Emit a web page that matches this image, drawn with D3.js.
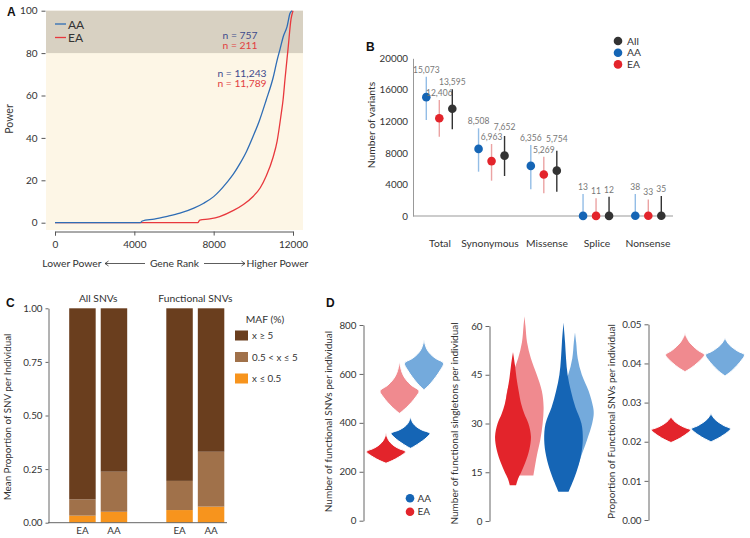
<!DOCTYPE html>
<html><head><meta charset="utf-8">
<script src="https://cdn.jsdelivr.net/npm/d3@7"></script>
<style>
body{margin:0;background:#fff}
svg{display:block}
text{font-family:Lato,'Open Sans',sans-serif;fill:#333}
</style>
</head><body>
<svg id="c" width="750" height="538"></svg>
<script>
// ---------- Panel A data ----------
const aRankAA  = [0,4300,4400,5000,5600,6300,7000,7500,8000,8300,8650,9000,9300,9650,10000,10300,10650,11000,11200,11350,11500,11700,11850,11950];
const aPowerAA = [0,0,0.8,1.7,2.9,4.5,6.9,9.2,12.3,15,18.8,23,27.5,33.5,41,48,57.9,68.5,76.7,82,87.5,92.5,98.8,100];
const aRankEA  = [0,7200,7300,7800,8300,9000,9500,10000,10350,10650,11000,11200,11400,11500,11600,11750,11900,12000];
const aPowerEA = [0,0,1.2,1.8,2.9,5.8,8.6,12.5,16.5,22,31,38.5,51,58,68,82,96,100];
const aXTicks = [0,4000,8000,12000];
const aYTicks = [0,20,40,60,80,100];
const aSeries = ["AA","EA"];
const aNotesTop = ["n = 757","n = 211"];
const aNotesMid = ["n = 11,243","n = 11,789"];

// ---------- Panel B data ----------
const bCategories = ["Total","Synonymous","Missense","Splice","Nonsense"];
const bSeries = ["AA","EA","All"];
const bAA = [15073,8508,6356,13,38];
const bEA = [12406,6963,5269,11,33];
const bAll = [13595,7652,5754,12,35];
const bAAHigh = [17660,11120,9000,2790,2790];
const bAALow  = [12170,5620,3390,0,0];
const bEAHigh = [14710,9130,7520,2240,2100];
const bEALow  = [10060,4480,2880,0,0];
const bAllHigh = [16070,10150,8280,2450,2540];
const bAllLow  = [11000,5070,3080,0,0];
const bYTicks = [0,4000,8000,12000,16000,20000];

// ---------- Panel C data ----------
const cGroups = ["All SNVs","Functional SNVs"];
const cPops = ["EA","AA"];
const cLow  = [0.033,0.051,0.059,0.075];   // x <= 0.5
const cMid  = [0.076,0.187,0.136,0.256];   // 0.5 < x <= 5
const cHigh = [0.891,0.762,0.805,0.669];   // x >= 5
const cYTicks = [0,0.25,0.5,0.75,1];
const cLegend = ["x \u2265 5","0.5 < x  \u2264 5","x \u2264 0.5"];

// ---------- Panel D data (value, relative density) ----------
const dPops = ["EA","AA"];
const d1Ticks = [0,200,400,600,800];
const d1EADarkV = [235,239.7,246.8,258.5,270.3,282,297,312,327,342,349.5,357];
const d1EADarkD = [0,.15,.35,.62,.85,1,.6,.32,.15,.06,.03,0];
const d1AADarkV = [296,302.1,311.8,326.5,341.8,357,370.2,383.4,396.6,409.8,416.4,423];
const d1AADarkD = [0,.15,.35,.62,.85,1,.6,.32,.15,.06,.03,0];
const d1EALightV = [439,448.1,462.3,484.5,507.3,530,554,578,602,626,638,650];
const d1EALightD = [0,.15,.35,.62,.85,1,.6,.32,.15,.06,.03,0];
const d1AALightV = [535,545.9,562.3,589.5,616.8,644,663,682,701,720,729.5,739];
const d1AALightD = [0,.15,.35,.62,.85,1,.6,.32,.15,.06,.03,0];

const d2Ticks = [0,15,30,45,60];
const d2EADarkV = [11,13,15,18,22,26,30,33,36,40,44,48,52];
const d2EADarkD = [.16,.26,.42,.63,.84,.92,.79,.58,.42,.29,.18,.1,0];
const d2EALightV = [14,20,25,30,35,40,45,50,55,60,63];
const d2EALightD = [.46,.63,.81,.93,.98,.89,.63,.33,.13,.05,0];
const d2AADarkV = [9,12,15,20,25,30,35,40,45,50,55,61];
const d2AADarkD = [.26,.47,.66,.89,.99,.92,.61,.38,.21,.13,.08,0];
const d2AALightV = [17,20,25,30,33,35,40,45,50,55,58];
const d2AALightD = [.16,.32,.62,.88,.96,.93,.7,.35,.14,.06,0];

const d3Ticks = [0,0.01,0.02,0.03,0.04,0.05];
const d3EADarkV = [.0198,.02012,.0206,.0214,.0222,.0230,.02368,.02436,.02504,.02572,.02606,.0264];
const d3EADarkD = [0,.15,.35,.62,.85,1,.68,.42,.22,.09,.04,0];
const d3AADarkV = [.0200,.02033,.02083,.02165,.02248,.0233,.02408,.02486,.02564,.02642,.02681,.0272];
const d3AADarkD = [0,.15,.35,.62,.85,1,.68,.42,.22,.09,.04,0];
const d3EALightV = [.0379,.03833,.03898,.04005,.04113,.0422,.0433,.0444,.0455,.0466,.04715,.0477];
const d3EALightD = [0,.15,.35,.62,.85,1,.68,.42,.22,.09,.04,0];
const d3AALightV = [.0368,.03734,.03815,.0395,.04085,.0422,.04306,.04392,.04478,.04564,.04607,.0465];
const d3AALightD = [0,.15,.35,.62,.85,1,.68,.42,.22,.09,.04,0];

// ---------- colours ----------
const BLUE = "#1565b5", RED = "#e3242b", LBLUE = "#74aadc", LRED = "#f08a8f";

const svg = d3.select("#c");
svg.append("rect").attr("width",750).attr("height",538).attr("fill","#fff");

function panelLabel(t,x,y){
  svg.append("text").attr("x",x).attr("y",y).text(t)
    .style("font-family","'Liberation Sans',Arial,sans-serif").style("font-weight","bold")
    .style("font-size","12px").style("fill","#111");
}
function styleAxis(g,color,fs){
  g.selectAll("path,line").attr("stroke",color);
  g.selectAll("text").style("font-family","Lato,'Open Sans',sans-serif").style("font-size",fs).attr("fill","#333");
}

// =============== Panel A ===============
(function(){
  const x = d3.scaleLinear().domain([0,12000]).range([55,293]);
  const y = d3.scaleLinear().domain([0,100]).range([222.7,10.7]);
  const g = svg.append("g");
  g.append("rect").attr("x",46).attr("y",y(100)).attr("width",257).attr("height",230-y(100)).attr("fill","#fdf6e6");
  g.append("rect").attr("x",46).attr("y",y(100)).attr("width",257).attr("height",y(80)-y(100)).attr("fill","#d8d1c2");

  const ya = g.append("g").attr("transform","translate(45.5,0)")
    .call(d3.axisLeft(y).tickValues(aYTicks).tickSize(4).tickPadding(4));
  ya.select(".domain").remove();
  styleAxis(ya,"#555","10px");

  const xa = g.append("g").attr("transform","translate(0,231.5)")
    .call(d3.axisBottom(x).tickValues(aXTicks).tickSize(4).tickPadding(5).tickFormat(d3.format("d")));
  styleAxis(xa,"#555","10px");

  const line = d3.line().x(d=>x(d[0])).y(d=>y(Math.min(100,d[1]))).curve(d3.curveMonotoneX);
  const dataAA = aRankAA.map((r,i)=>[r,aPowerAA[i]]);
  const dataEA = aRankEA.map((r,i)=>[r,aPowerEA[i]]);
  g.append("path").attr("d",line(dataEA)).attr("fill","none").attr("stroke","#e8383d").attr("stroke-width",1.3);
  g.append("path").attr("d",line(dataAA)).attr("fill","none").attr("stroke","#2f6db5").attr("stroke-width",1.3);

  // legend
  const lc = ["#2f6db5","#e8383d"];
  aSeries.forEach((s,i)=>{
    const yy = 24 + i*13.5;
    g.append("line").attr("x1",55).attr("x2",66).attr("y1",yy).attr("y2",yy).attr("stroke",lc[i]).attr("stroke-width",1.3);
    g.append("text").attr("x",68).attr("y",yy+4.5).text(s).style("font-size","12px").style("fill","#333");
  });
  // annotations
  const nc = ["#3d4a8c","#e2403f"];
  aNotesTop.forEach((t,i)=>{
    g.append("text").attr("x",240).attr("y",38.5+i*10.5).attr("text-anchor","middle").text(t).style("font-size","10.3px").style("fill",nc[i]);
  });
  aNotesMid.forEach((t,i)=>{
    g.append("text").attr("x",242).attr("y",76.5+i*10.5).attr("text-anchor","middle").text(t).style("font-size","10.3px").style("fill",nc[i]);
  });
  // axis titles
  g.append("text").attr("transform","translate(13,119) rotate(-90)").attr("text-anchor","middle").text("Power").style("font-size","10.5px");
  const ty = 267;
  g.append("text").attr("x",101.5).attr("y",ty).attr("text-anchor","end").text("Lower Power").style("font-size","10.3px");
  g.append("text").attr("x",174.5).attr("y",ty).attr("text-anchor","middle").text("Gene Rank").style("font-size","10.3px");
  g.append("text").attr("x",246.5).attr("y",ty).attr("text-anchor","start").text("Higher Power").style("font-size","10.3px");
  const ay = 263.5;
  g.append("path").attr("d",`M145,${ay}H105M108.5,${ay-2.5}L105,${ay}L108.5,${ay+2.5}`).attr("fill","none").attr("stroke","#333").attr("stroke-width",0.8);
  g.append("path").attr("d",`M204,${ay}H245M241.5,${ay-2.5}L245,${ay}L241.5,${ay+2.5}`).attr("fill","none").attr("stroke","#333").attr("stroke-width",0.8);
  panelLabel("A",7,16);
})();

// =============== Panel B ===============
(function(){
  const x = d3.scalePoint().domain(bCategories).range([439.3,648.3]);
  const off = d3.scalePoint().domain(bSeries).range([-13,13]);
  const y = d3.scaleLinear().domain([0,20000]).range([216,58.3]);
  const g = svg.append("g");
  const ya = g.append("g").attr("transform","translate(413,0)")
    .call(d3.axisLeft(y).tickValues(bYTicks).tickSize(0).tickPadding(5).tickFormat(d3.format("d")));
  styleAxis(ya,"#999","9.8px");
  g.append("line").attr("x1",413).attr("x2",673).attr("y1",216).attr("y2",216).attr("stroke","#999");
  const labelX = {"Total":440,"Synonymous":490,"Missense":547,"Splice":597,"Nonsense":648};
  bCategories.forEach(c=>{
    g.append("text").attr("x",labelX[c]).attr("y",246.5).attr("text-anchor","middle").text(c).style("font-size","10.3px");
  });
  const series = [
    {k:"AA",v:bAA,lo:bAALow,hi:bAAHigh,dot:BLUE,bar:"#93bde6"},
    {k:"EA",v:bEA,lo:bEALow,hi:bEAHigh,dot:RED,bar:"#eba3a3"},
    {k:"All",v:bAll,lo:bAllLow,hi:bAllHigh,dot:"#333333",bar:"#333333"}
  ];
  const fmt = d3.format(",");
  const placed = bCategories.map(()=>[]);
  series.forEach(s=>{
    bCategories.forEach((c,i)=>{
      const cx = x(c)+off(s.k);
      g.append("line").attr("x1",cx).attr("x2",cx).attr("y1",y(s.lo[i])).attr("y2",y(s.hi[i])).attr("stroke",s.bar).attr("stroke-width",1.4);
      g.append("circle").attr("cx",cx).attr("cy",y(s.v[i])).attr("r",4.3).attr("fill",s.dot);
      const t = g.append("text").attr("x",cx).attr("y",y(s.hi[i])-4).attr("text-anchor","middle").text(fmt(s.v[i]))
        .style("font-size","8.5px").style("fill","#777");
      let bb = t.node().getBBox();
      let guard = 0;
      while(placed[i].some(p=>!(bb.x+bb.width<p.x||p.x+p.width<bb.x||bb.y+bb.height<p.y||p.y+p.height<bb.y)) && guard<20){
        t.attr("y",+t.attr("y")-1); bb = t.node().getBBox(); guard++;
      }
      placed[i].push(bb);
    });
  });
  // legend
  const lcol = {"All":"#333333","AA":BLUE,"EA":RED};
  ["All","AA","EA"].forEach((k,i)=>{
    const yy = 41 + i*11.7;
    g.append("circle").attr("cx",618).attr("cy",yy).attr("r",4.3).attr("fill",lcol[k]);
    g.append("text").attr("x",627).attr("y",yy+3.5).text(k).style("font-size","10.3px");
  });
  g.append("text").attr("transform","translate(375,125) rotate(-90)").attr("text-anchor","middle").text("Number of variants").style("font-size","10.3px");
  panelLabel("B",366,51);
})();

// =============== Panel C ===============
(function(){
  const gx = d3.scalePoint().domain(cGroups).range([98.2,195.3]);
  const px = d3.scaleBand().domain(cPops).range([-29,29]).paddingInner(0.16);
  const y = d3.scaleLinear().domain([0,1]).range([522.7,308.3]);
  const g = svg.append("g");
  const rows = [];
  cGroups.forEach((grp,gi)=>cPops.forEach((p,pi)=>{
    const i = gi*2+pi;
    rows.push({grp,p,low:cLow[i],mid:cMid[i],high:cHigh[i]});
  }));
  const keys = ["low","mid","high"];
  const colors = {low:"#f7941d",mid:"#a0714a",high:"#6a3e1e"};
  const stack = d3.stack().keys(keys)(rows);
  stack.forEach(layer=>{
    layer.forEach(d=>{
      const r = d.data;
      g.append("rect").attr("x",gx(r.grp)+px(r.p)).attr("width",px.bandwidth())
        .attr("y",y(d[1])).attr("height",y(d[0])-y(d[1])).attr("fill",colors[layer.key]);
    });
  });
  const ya = g.append("g").attr("transform","translate(48.5,0)")
    .call(d3.axisLeft(y).tickValues(cYTicks).tickSize(3).tickPadding(3).tickFormat(d3.format(".2f")).tickSizeOuter(0));
  styleAxis(ya,"#666","9.8px");
  g.append("line").attr("x1",48).attr("x2",227).attr("y1",522.7).attr("y2",522.7).attr("stroke","#666");
  rows.forEach(r=>{
    g.append("text").attr("x",gx(r.grp)+px(r.p)+px.bandwidth()/2).attr("y",533.5).attr("text-anchor","middle").text(r.p).style("font-size","9.8px");
  });
  cGroups.forEach(grp=>{
    g.append("text").attr("x",gx(grp)).attr("y",301.5).attr("text-anchor","middle").text(grp).style("font-size","10.3px");
  });
  g.append("text").attr("transform","translate(11,417) rotate(-90)").attr("text-anchor","middle").text("Mean Proportion of SNV per Individual").style("font-size","9.8px");
  // legend
  g.append("text").attr("x",265).attr("y",322.5).attr("text-anchor","middle").text("MAF (%)").style("font-size","10.3px");
  ["high","mid","low"].forEach((k,i)=>{
    const yy = 330.5 + i*21.5;
    g.append("rect").attr("x",235).attr("y",yy).attr("width",13).attr("height",10).attr("fill",colors[k]);
    g.append("text").attr("x",252).attr("y",yy+8.5).text(cLegend[i]).style("font-size","9.8px");
  });
  panelLabel("C",6,306.5);
})();

// =============== Panel D ===============
function violinPanel(opts){
  const g = svg.append("g");
  const y = d3.scaleLinear().domain(opts.domain).range(opts.range);
  const w = d3.scaleLinear().domain([0,1]).range([0,19.5]);
  const pop = d3.scalePoint().domain(dPops).range(opts.popRange);
  const ya = g.append("g").attr("transform",`translate(${opts.axisX},0)`)
    .call(d3.axisLeft(y).tickValues(opts.ticks).tickSize(4).tickPadding(3).tickFormat(opts.fmt).tickSizeOuter(0));
  styleAxis(ya,"#666","9.8px");
  opts.violins.forEach(v=>{
    const cx = pop(v.pop) + (v.light ? opts.lightOff : 0);
    const pts = v.vals.map((val,i)=>({v:val,d:v.dens[i]}));
    const area = d3.area().y(d=>y(d.v)).x0(d=>cx-w(d.d)).x1(d=>cx+w(d.d)).curve(d3.curveCatmullRom.alpha(0.5));
    const p = g.append("path").attr("d",area(pts)).attr("fill",v.color);
    if(opts.outline) p.attr("stroke","#fff").attr("stroke-width",1);
  });
  g.append("text").attr("transform",`translate(${opts.titleX},${opts.titleY}) rotate(-90)`).attr("text-anchor","middle")
    .text(opts.title).style("font-size","10px");
  return g;
}
violinPanel({
  domain:[0,800], range:[520.7,325], axisX:363.5, ticks:d1Ticks, fmt:d3.format("d"),
  popRange:[386,410.5], lightOff:13.5, outline:true,
  title:"Number of functional SNVs per individual", titleX:332, titleY:421.5,
  violins:[
    {pop:"EA",light:true,vals:d1EALightV,dens:d1EALightD,color:LRED},
    {pop:"AA",light:true,vals:d1AALightV,dens:d1AALightD,color:LBLUE},
    {pop:"EA",light:false,vals:d1EADarkV,dens:d1EADarkD,color:RED},
    {pop:"AA",light:false,vals:d1AADarkV,dens:d1AADarkD,color:BLUE}
  ]
});
violinPanel({
  domain:[0,60], range:[521,326], axisX:489.5, ticks:d2Ticks, fmt:d3.format("d"),
  popRange:[513,563.5], lightOff:11.5, outline:false,
  title:"Number of functional singletons per individual", titleX:457.5, titleY:423.5,
  violins:[
    {pop:"EA",light:true,vals:d2EALightV,dens:d2EALightD,color:LRED},
    {pop:"EA",light:false,vals:d2EADarkV,dens:d2EADarkD,color:RED},
    {pop:"AA",light:true,vals:d2AALightV,dens:d2AALightD,color:LBLUE},
    {pop:"AA",light:false,vals:d2AADarkV,dens:d2AADarkD,color:BLUE}
  ]
});
violinPanel({
  domain:[0,0.05], range:[520,324.3], axisX:648.5, ticks:d3Ticks, fmt:d3.format(".2f"),
  popRange:[671,711], lightOff:14, outline:true,
  title:"Proportion of Functional SNVs per individual", titleX:614.5, titleY:421.5,
  violins:[
    {pop:"EA",light:true,vals:d3EALightV,dens:d3EALightD,color:LRED},
    {pop:"AA",light:true,vals:d3AALightV,dens:d3AALightD,color:LBLUE},
    {pop:"EA",light:false,vals:d3EADarkV,dens:d3EADarkD,color:RED},
    {pop:"AA",light:false,vals:d3AADarkV,dens:d3AADarkD,color:BLUE}
  ]
});
// D legend
[["AA",BLUE],["EA",RED]].forEach((d,i)=>{
  const yy = 498.3 + i*13.4;
  svg.append("circle").attr("cx",410).attr("cy",yy).attr("r",4.3).attr("fill",d[1]);
  svg.append("text").attr("x",417.5).attr("y",yy+3.5).text(d[0]).style("font-size","10px");
});
panelLabel("D",326,306.5);
</script>
</body></html>
